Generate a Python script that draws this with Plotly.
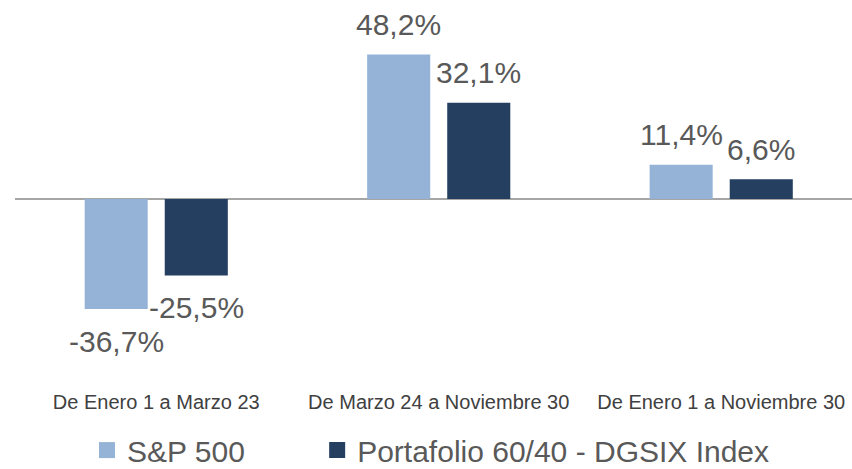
import plotly.graph_objects as go

categories = ["De Enero 1 a Marzo 23", "De Marzo 24 a Noviembre 30", "De Enero 1 a Noviembre 30"]
sp500 = [-36.7, 48.2, 11.4]
portafolio = [-25.5, 32.1, 6.6]
series_names = ["S&P 500", "Portafolio 60/40 - DGSIX Index"]
colors = ["#95B3D7", "#243F60"]

FONT = "Liberation Sans, Arial, sans-serif"
TXT = "#595959"

fig = go.Figure()
legends = ["legend", "legend2"]
for name, vals, col, lg in zip(series_names, [sp500, portafolio], colors, legends):
    fig.add_trace(go.Bar(x=categories, y=vals, name=name, marker=dict(color=col, line=dict(width=0)),
                         showlegend=False))
    # legend-only proxy with larger square symbol
    fig.add_trace(go.Scatter(x=[None], y=[None], mode="markers", name=name, legend=lg,
                             marker=dict(symbol="square", size=16, color=col)))

def fmt(v):
    return f"{v:.1f}".replace(".", ",") + "%"

annotations = []
for vals, xs in [(sp500, -40), (portafolio, 40)]:
    for c, v in zip(categories, vals):
        annotations.append(dict(x=c, y=v, text=fmt(v), showarrow=False, xshift=xs,
                                yshift=30 if v > 0 else -32, yanchor="middle", xanchor="center",
                                font=dict(family=FONT, size=30, color=TXT)))

leg_common = dict(orientation="h", xanchor="left", y=-0.16, yanchor="middle",
                  font=dict(family=FONT, size=30, color=TXT), bgcolor="rgba(0,0,0,0)")
fig.update_layout(
    width=852, height=469,
    margin=dict(l=15, r=0, t=0, b=81, autoexpand=False),
    paper_bgcolor="white", plot_bgcolor="white",
    barmode="group", bargap=0.433, bargroupgap=0.2125,
    annotations=annotations,
    showlegend=True,
    legend=dict(x=0.086, **leg_common),
    legend2=dict(x=0.361, **leg_common),
    font=dict(family=FONT, color=TXT),
)
fig.update_xaxes(range=[-0.5, 2.463], showgrid=False, showline=False, ticks="", automargin=False,
                 tickfont=dict(family=FONT, size=20, color="#404040"))
fig.update_yaxes(range=[-63.0, 66.33], showgrid=False, showticklabels=False, ticks="", automargin=False,
                 zeroline=True, zerolinecolor="#A6A6A6", zerolinewidth=2, showline=False)

fig.write_html("out.html", config={"displayModeBar": False},
               post_script="document.body.style.margin='0';document.body.style.overflow='hidden';")
